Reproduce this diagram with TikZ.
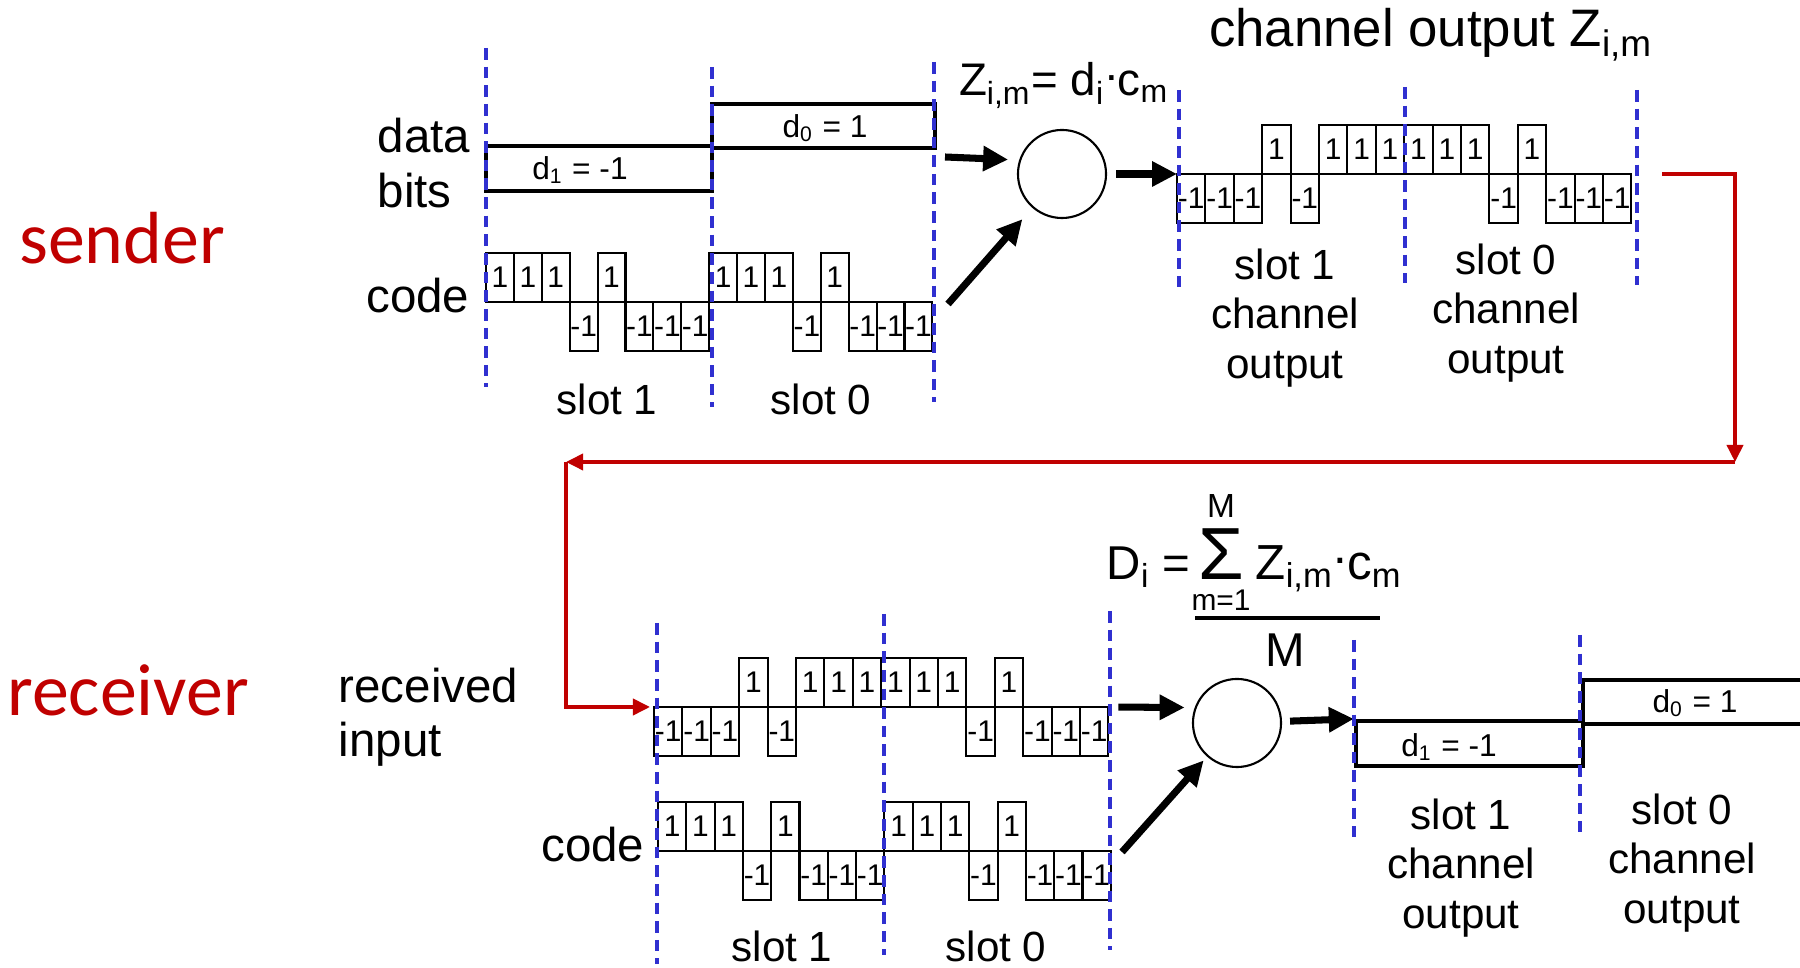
\documentclass[tikz,border=0pt]{standalone}
\usepackage{fontspec}
\setmainfont{Liberation Sans}
\newfontfamily\calibri{Carlito}
\usetikzlibrary{arrows.meta}

\definecolor{senderred}{RGB}{192,0,0}
\definecolor{slotblue}{RGB}{48,48,208}

\newcommand{\mdot}{\raisebox{0.33em}{.}}
\newcommand{\chiprow}[5]{%
  \foreach \val [count=\k from 0] in {#5} {
    \pgfmathsetmacro{\cx}{#2+\k*#4}
    \ifnum\val>0
      \node[chip, minimum width={#4*0.01cm}, anchor=south west] (#1-\k) at (\cx,#3) {\val};
    \else
      \node[chip, minimum width={#4*0.01cm}, anchor=north west] (#1-\k) at (\cx,#3) {\val};
    \fi
  }}

\tikzset{
  chip/.style={draw, line width=0.6pt, minimum height=0.49cm, inner sep=0pt, outer sep=0pt, font=\fontsize{8.5}{10}\selectfont},
  databox/.style={draw, line width=1.2pt, inner sep=0pt},
  datalbl/.style={font=\fontsize{9}{11}\selectfont, inner sep=0pt},
  mixer/.style={circle, draw, line width=0.6pt, minimum size=0.88cm, inner sep=0pt},
  bigarrow/.style={-{Triangle[length=0.25cm,width=0.24cm]}, line width=2pt},
  redarrow/.style={-{Triangle[length=0.17cm,width=0.16cm]}, line width=1.05pt, draw=senderred},
  slotline/.style={draw=slotblue, line width=0.95pt, dash pattern=on 3.3pt off 2pt},
  rowlbl/.style={font=\fontsize{13.5}{15.4}\selectfont, inner sep=0pt},
  slotlbl/.style={font=\fontsize{12}{14}\selectfont, inner sep=0pt, align=center},
  side/.style={font=\calibri\fontsize{21}{25}\selectfont, text=senderred, inner sep=0pt}
}

\begin{document}
\begin{tikzpicture}[x=0.01cm,y=-0.01cm]
\useasboundingbox (0,0) rectangle (1800,968);

\node[side, anchor=base] (sender) at (122,264) {sender};
\node[side, anchor=base] (receiver) at (128,716) {receiver};

% sender side
\node[rowlbl, anchor=west, align=left] (bits) at (377,163) {data\\bits};
\node[rowlbl, anchor=base east] (scode) at (470,313) {code};
\node[databox, minimum width=2.26cm, minimum height=0.45cm] (d1in) at (599,168.5) {};
\node[datalbl, anchor=base] (d1inlbl) at (580,180) {d\textsubscript{1} = -1};
\node[databox, minimum width=2.23cm, minimum height=0.44cm] (d0in) at (823.5,126) {};
\node[datalbl, anchor=base] (d0inlbl) at (825,138) {d\textsubscript{0} = 1};
\chiprow{sc}{486}{302}{27.9}{1,1,1,-1,1,-1,-1,-1,1,1,1,-1,1,-1,-1,-1}
\node[slotlbl, anchor=base] (sslot1) at (607,415) {slot 1};
\node[slotlbl, anchor=base] (sslot0) at (821,415) {slot 0};

\node[mixer] (mult) at (1062,174) {};
\node[anchor=base, inner sep=0pt, font=\fontsize{13}{15}\selectfont] (zform) at (1064,96) {Z\textsubscript{i,m}= d\textsubscript{i}\mdot c\textsubscript{m}};
\coordinate (bitsout) at (945,157);
\coordinate (codeout) at (948,304);
\draw[bigarrow, shorten >=0.11cm] (bitsout) -- (mult.162);
\draw[bigarrow, shorten >=0.15cm] (codeout) -- (mult);

\chiprow{ch}{1177}{174}{28.4}{-1,-1,-1,1,-1,1,1,1,1,1,1,-1,1,-1,-1,-1}
\draw[bigarrow, shorten <=0.09cm] (mult) -- (ch-0.north west);
\node[anchor=base, inner sep=0pt, font=\fontsize{15}{18}\selectfont] (chtitle) at (1431,47) {channel output Z\textsubscript{i,m}};
\node[slotlbl] (chlbl1) at (1285,318) {slot 1\\channel\\output};
\node[slotlbl] (chlbl0) at (1506,313) {slot 0\\channel\\output};

% receiver side
\node[rowlbl, anchor=west, align=left] (rxin) at (338,717) {received\\input};
\node[rowlbl, anchor=base east] (rcode) at (645,862) {code};
\chiprow{rx}{654}{707}{28.4}{-1,-1,-1,1,-1,1,1,1,1,1,1,-1,1,-1,-1,-1}
\chiprow{rc}{658}{851}{28.3}{1,1,1,-1,1,-1,-1,-1,1,1,1,-1,1,-1,-1,-1}
\node[slotlbl, anchor=base] (rslot1) at (782,962) {slot 1};
\node[slotlbl, anchor=base] (rslot0) at (996,962) {slot 0};

\coordinate (bendR) at (1735,462);
\coordinate (bendL) at (566,462);
\draw[redarrow, shorten <=0.31cm] (ch-15.north east) -| (bendR);
\draw[redarrow] (bendR) -- (bendL);
\draw[redarrow, shorten >=0.04cm] (bendL) |- (rx-0.north west);

\node[mixer] (demult) at (1237,723) {};
\coordinate (rcodeout) at (1122,852);
\draw[bigarrow, shorten <=0.1cm, shorten >=0.1cm] (rx-15.north east) -- (demult.160);
\draw[bigarrow, shorten >=0.05cm] (rcodeout) -- (demult);

\node[anchor=base west, inner sep=0pt, font=\fontsize{13.5}{16}\selectfont] (dlhs) at (1106,580) {D\textsubscript{i}\hspace{0.25em}=};
\node[anchor=base, inner sep=0pt, font=\fontsize{21}{25}\selectfont] (sigma) at (1221,580) {Σ};
\node[anchor=base, inner sep=0pt, font=\fontsize{9.5}{11}\selectfont] (sumtop) at (1221,518) {M};
\node[anchor=base, inner sep=0pt, font=\fontsize{8.5}{10}\selectfont] (sumbot) at (1221,611) {m=1};
\node[anchor=base west, inner sep=0pt, font=\fontsize{14}{17}\selectfont] (sumarg) at (1255,580) {Z\textsubscript{i,m}\mdot c\textsubscript{m}};
\draw[line width=1.1pt] (1195,618) -- (1380,618);
\node[anchor=base, inner sep=0pt, font=\fontsize{13.5}{16}\selectfont] (den) at (1285,667) {M};

\node[databox, minimum width=2.27cm, minimum height=0.45cm] (d1out) at (1469.5,743.5) {};
\node[datalbl, anchor=base] (d1outlbl) at (1449,757) {d\textsubscript{1} = -1};
\node[databox, minimum width=2.27cm, minimum height=0.44cm] (d0out) at (1696.5,702) {};
\node[datalbl, anchor=base] (d0outlbl) at (1695,713) {d\textsubscript{0} = 1};
\draw[bigarrow, shorten <=0.08cm] (demult) -- (d1out.north west);
\node[slotlbl] (outlbl1) at (1461,868) {slot 1\\channel\\output};
\node[slotlbl] (outlbl0) at (1682,863) {slot 0\\channel\\output};

% slot boundaries
\foreach \x/\ya/\yb in {486/48/387, 712/67/407, 934/62/402, 1179/90/287, 1405/87/283, 1637/90/285,
  657/623/964, 884/614/955, 1110/611/950, 1354/640/837, 1580/635/832}
  \draw[slotline] (\x,\ya) -- (\x,\yb);

\end{tikzpicture}
\end{document}
